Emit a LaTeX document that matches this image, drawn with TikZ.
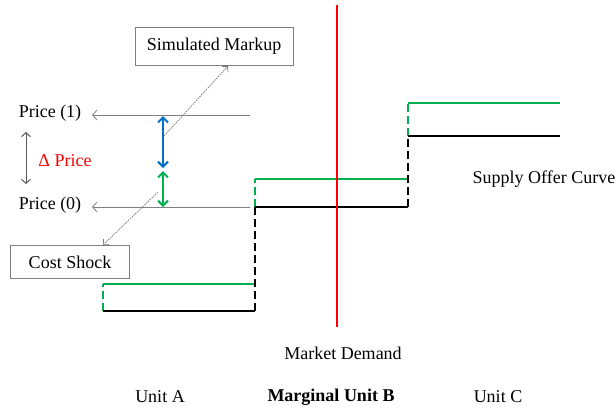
\documentclass[tikz,border=0pt]{standalone}
\usepackage{fontspec}
\setmainfont{Liberation Serif}
\usetikzlibrary{arrows.meta}
\definecolor{ofgreen}{RGB}{0,176,80}
\definecolor{ofblue}{RGB}{0,112,192}
\definecolor{ofred}{RGB}{255,0,0}
\definecolor{ptrgray}{RGB}{128,128,128}
\definecolor{dgray}{RGB}{89,89,89}
\begin{document}
\begin{tikzpicture}[x=1pt,y=-1pt,
  lbl/.style={font=\fontsize{18}{20}\selectfont, inner sep=0pt},
  box/.style={draw=ptrgray, line width=0.8pt, inner sep=0pt, fill=white, font=\fontsize{18}{20}\selectfont},
  ptr/.style={draw=ptrgray, line width=0.8pt, -{Straight Barb[length=4.5pt,width=10pt]}},
  dotptr/.style={draw=ptrgray!90!black, line width=0.7pt, dash pattern=on 1.5pt off 1pt, -{Straight Barb[length=4pt,width=8pt]}},
  dbl/.style={line width=2pt, {Straight Barb[length=5pt,width=10pt]}-{Straight Barb[length=5pt,width=10pt]}},
  curveB/.style={line width=2.6pt, black},
  curveG/.style={line width=2.6pt, ofgreen},
  dashB/.style={curveB, dash pattern=on 8pt off 4pt},
  dashG/.style={curveG, dash pattern=on 8pt off 4pt}]
\useasboundingbox (0,0) rectangle (616,410);
% step points
\coordinate (a0) at (103,311); \coordinate (a1) at (255,311);
\coordinate (b0) at (255,207); \coordinate (b1) at (408,207);
\coordinate (c0) at (408,136); \coordinate (c1) at (560,136);
\coordinate (ga0) at (103,284); \coordinate (ga1) at (255,284);
\coordinate (gb0) at (255,179); \coordinate (gb1) at (408,179);
\coordinate (gc0) at (408,103); \coordinate (gc1) at (560,103);
% price arrows
\node[lbl] (p1) at (50,113) {Price (1)};
\node[lbl] (p0) at (50,205) {Price (0)};
\coordinate (p1s) at (250,115); \coordinate (p1e) at (92,115);
\coordinate (p0s) at (250,207); \coordinate (p0e) at (92,207);
\draw[ptr] (p1s) -- (p1e);
\draw[ptr] (p0s) -- (p0e);
% curves
\draw[dashG] (a0) -- (ga0);
\draw[dashG] (b0) -- (gb0);
\draw[dashG] (c0) -- (gc0);
\draw[curveG] (ga0) -- (ga1);
\draw[curveG] (gb0) -- (gb1);
\draw[curveG] (gc0) -- (gc1);
\draw[dashB] (a1) -- (b0);
\draw[dashB] (b1) -- (c0);
\draw[curveB] (a0) -- (a1);
\draw[curveB] (b0) -- (b1);
\draw[curveB] (c0) -- (c1);
% demand
\coordinate (d0) at (337,5); \coordinate (d1) at (337,327);
\draw[line width=2.8pt, ofred] (d0) -- (d1);
% delta arrows
\coordinate (bl0) at (163,116); \coordinate (bl1) at (163,168);
\coordinate (gr0) at (163,171); \coordinate (gr1) at (163,207);
\draw[dbl, ofblue] (bl0) -- (bl1);
\draw[dbl, ofgreen] (gr0) -- (gr1);
\coordinate (dl0) at (26,132); \coordinate (dl1) at (26,184);
\draw[line width=1pt, dgray, {Straight Barb[length=4pt,width=9pt]}-{Straight Barb[length=4pt,width=9pt]}] (dl0) -- (dl1);
\node[lbl, text=ofred] (dp) at (65,161) {Δ Price};
% boxes
\node[box, minimum width=158pt, minimum height=38pt] (sm) at (214,46) {Simulated Markup};
\node[box, minimum width=119pt, minimum height=33pt] (cs) at (70,262) {Cost Shock};
\coordinate (sms) at (164,136); \coordinate (sme) at (228,66);
\coordinate (css) at (158,192); \coordinate (cse) at (103,245);
\draw[dotptr] (sms) -- (sme);
\draw[dotptr] (css) -- (cse);
% labels
\node[lbl] (soc) at (544,179) {Supply Offer Curve};
\node[lbl] (md) at (343,353) {Market Demand};
\node[lbl] (ua) at (160,397) {Unit A};
\node[lbl, font=\fontsize{18}{20}\selectfont\bfseries] (ub) at (331,397) {Marginal Unit B};
\node[lbl] (uc) at (498,397) {Unit C};
\end{tikzpicture}
\end{document}
